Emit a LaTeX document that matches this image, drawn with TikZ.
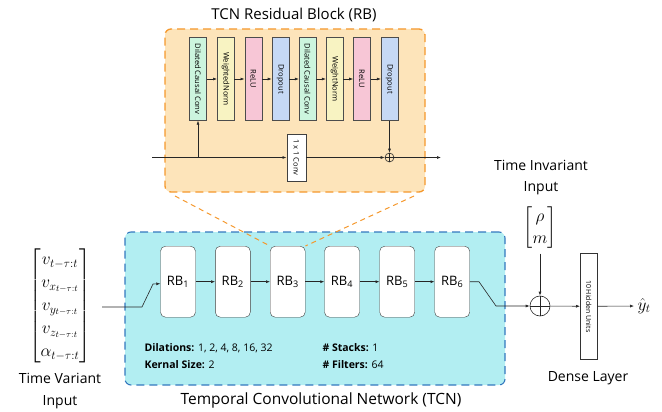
\documentclass[tikz,border=0pt]{standalone}
\usepackage{fontspec}
\setmainfont{Open Sans}
\usepackage{amsmath}
\usepackage{graphicx}
\usetikzlibrary{arrows.meta}
\definecolor{rbback}{HTML}{FDE4BA}
\definecolor{rbedge}{HTML}{F5982C}
\definecolor{tcnback}{HTML}{B2EEF2}
\definecolor{tcnedge}{HTML}{3478BE}
\definecolor{convcol}{HTML}{CCF5DE}
\definecolor{normcol}{HTML}{F8F3C2}
\definecolor{relucol}{HTML}{F7C6D6}
\definecolor{dropcol}{HTML}{C6D9F5}
\tikzset{
  layer/.style={draw=black!70, minimum width=17pt, minimum height=83pt, inner sep=0pt, font=\fontsize{7.6}{7.6}\selectfont},
  rbnode/.style={draw=black!75, fill=white, rounded corners=5pt, minimum width=35pt, minimum height=71pt, inner sep=0pt, font=\fontsize{13}{13}\selectfont},
  conn/.style={-{Latex[length=4pt,width=3pt]}, black!85, line width=0.6pt},
  sumnode/.style={circle, draw=black!85, inner sep=0pt, line width=0.6pt,
    path picture={\draw[line width=0.6pt] (path picture bounding box.north) -- (path picture bounding box.south)
      (path picture bounding box.west) -- (path picture bounding box.east);}},
}
\begin{document}
\begin{tikzpicture}[x=1pt, y=-1pt]
  \useasboundingbox (0,0) rectangle (662,412);
  % residual block detail
  \node[draw=rbedge, fill=rbback, dash pattern=on 8pt off 5pt, line width=1.3pt, rounded corners=6pt,
    minimum width=260pt, minimum height=163pt] (rbox) at (295,110.5) {};
  \node[font=\fontsize{15}{15}\selectfont] (rbtitle) at (294,15) {TCN Residual Block (RB)};
  \node[layer, fill=convcol] (d1) at (198,79) {\rotatebox{-90}{Dilated Causal Conv}};
  \node[layer, fill=normcol] (w1) at (225.7,79) {\rotatebox{-90}{WeightedNorm}};
  \node[layer, fill=relucol] (r1) at (253.2,79) {\rotatebox{-90}{ReLU}};
  \node[layer, fill=dropcol] (o1) at (280.4,79) {\rotatebox{-90}{Dropout}};
  \node[layer, fill=convcol] (d2) at (307.5,79) {\rotatebox{-90}{Dilated Causal Conv}};
  \node[layer, fill=normcol] (w2) at (334.5,79) {\rotatebox{-90}{WeightNorm}};
  \node[layer, fill=relucol] (r2) at (361.9,79) {\rotatebox{-90}{ReLU}};
  \node[layer, fill=dropcol] (o2) at (389.5,79) {\rotatebox{-90}{Dropout}};
  \draw[conn] (d1) -- (w1);
  \draw[conn] (w1) -- (r1);
  \draw[conn] (r1) -- (o1);
  \draw[conn] (o1) -- (d2);
  \draw[conn] (d2) -- (w2);
  \draw[conn] (w2) -- (r2);
  \draw[conn] (r2) -- (o2);
  \node[draw=black!75, fill=white, minimum width=19pt, minimum height=47pt, inner sep=0pt,
    font=\fontsize{7.5}{7.5}\selectfont] (skip) at (296.2,157.5) {\rotatebox{-90}{1 x 1 Conv}};
  \node[sumnode, minimum size=9pt] (rsum) at (389.5,157.5) {};
  \coordinate (rin) at (152,157.5);
  \coordinate (rout) at (441,157.5);
  \draw[conn] (rin) -- (skip);
  \draw[conn] (d1.south |- rin) -- (d1.south);
  \draw[conn] (o2.south) -- (rsum);
  \draw[conn] (skip) -- (rsum);
  \draw[conn] (rsum) -- (rout);
  % temporal convolutional network
  \node[draw=tcnedge, fill=tcnback, dash pattern=on 8pt off 5pt, line width=1.1pt, rounded corners=6pt,
    minimum width=380pt, minimum height=153pt] (tcn) at (315,308.5) {};
  \node[rbnode] (rb1) at (178,281.7) {RB\textsubscript{1}};
  \node[rbnode] (rb2) at (232.8,281.7) {RB\textsubscript{2}};
  \node[rbnode] (rb3) at (287.7,281.7) {RB\textsubscript{3}};
  \node[rbnode] (rb4) at (342,281.7) {RB\textsubscript{4}};
  \node[rbnode] (rb5) at (397.2,281.7) {RB\textsubscript{5}};
  \node[rbnode] (rb6) at (452.2,281.7) {RB\textsubscript{6}};
  \draw[conn] (rb1) -- (rb2);
  \draw[conn] (rb2) -- (rb3);
  \draw[conn] (rb3) -- (rb4);
  \draw[conn] (rb4) -- (rb5);
  \draw[conn] (rb5) -- (rb6);
  \coordinate (zl) at (175,196);
  \coordinate (zr) at (414,196);
  \draw[rbedge, line width=1pt, dash pattern=on 5pt off 4pt] (zl) -- (rb3.north west);
  \draw[rbedge, line width=1pt, dash pattern=on 5pt off 4pt] (zr) -- (rb3.north east);
  \node[anchor=west, font=\fontsize{10.5}{10.5}\selectfont] (dil) at (141,348) {\textbf{Dilations:} 1, 2, 4, 8, 16, 32};
  \node[anchor=west, font=\fontsize{10.5}{10.5}\selectfont] (ker) at (141,364.5) {\textbf{Kernal Size:} 2};
  \node[anchor=west, font=\fontsize{10.5}{10.5}\selectfont] (stk) at (319,348) {\textbf{\# Stacks:} 1};
  \node[anchor=west, font=\fontsize{10.5}{10.5}\selectfont] (flt) at (319,364.5) {\textbf{\# Filters:} 64};
  \node[font=\fontsize{15.5}{15.5}\selectfont] (tcntitle) at (321,400) {Temporal Convolutional Network (TCN)};
  % inputs
  \node[font=\fontsize{18.5}{23}\selectfont] (xin) at (60,306) {$\begin{bmatrix} v_{t-\tau:t}\\ v_{x_{t-\tau:t}}\\ v_{y_{t-\tau:t}}\\ v_{z_{t-\tau:t}}\\ \alpha_{t-\tau:t}\end{bmatrix}$};
  \node[font=\fontsize{14}{22}\selectfont, align=center] (xlab) at (60,391) {Time Variant\\Input};
  \coordinate (xa) at (102,307);
  \coordinate (xb) at (142,307);
  \coordinate (xc) at (153,284);
  \draw[conn] (xa) -- (xb) -- (xc) -- ([yshift=-2pt]rb1.west);
  % output side
  \node[sumnode, minimum size=20pt] (osum) at (540,306) {};
  \node[font=\fontsize{14}{21}\selectfont, align=center] (tilab) at (541,178) {Time Invariant\\Input};
  \node[font=\fontsize{17}{22}\selectfont] (tivec) at (540,228) {$\begin{bmatrix}\rho\\ m\end{bmatrix}$};
  \node[draw=black!80, fill=white, minimum width=17pt, minimum height=106pt, inner sep=0pt,
    font=\fontsize{7}{7}\selectfont] (dense) at (588.7,306.3) {\rotatebox{-90}{10 Hidden Units}};
  \node[font=\fontsize{14}{14}\selectfont] (dlab) at (588,378) {Dense Layer};
  \node[font=\fontsize{17}{17}\selectfont, anchor=west] (yhat) at (634,306) {$\hat{y}_t$};
  \coordinate (ya) at (479,281.7);
  \coordinate (yb) at (496,306);
  \draw[conn] (rb6.east) -- (ya) -- (yb) -- (osum);
  \draw[conn] (tivec.south) -- (osum);
  \draw[conn] (osum) -- (dense);
  \draw[conn] (dense) -- (yhat);
\end{tikzpicture}
\end{document}
